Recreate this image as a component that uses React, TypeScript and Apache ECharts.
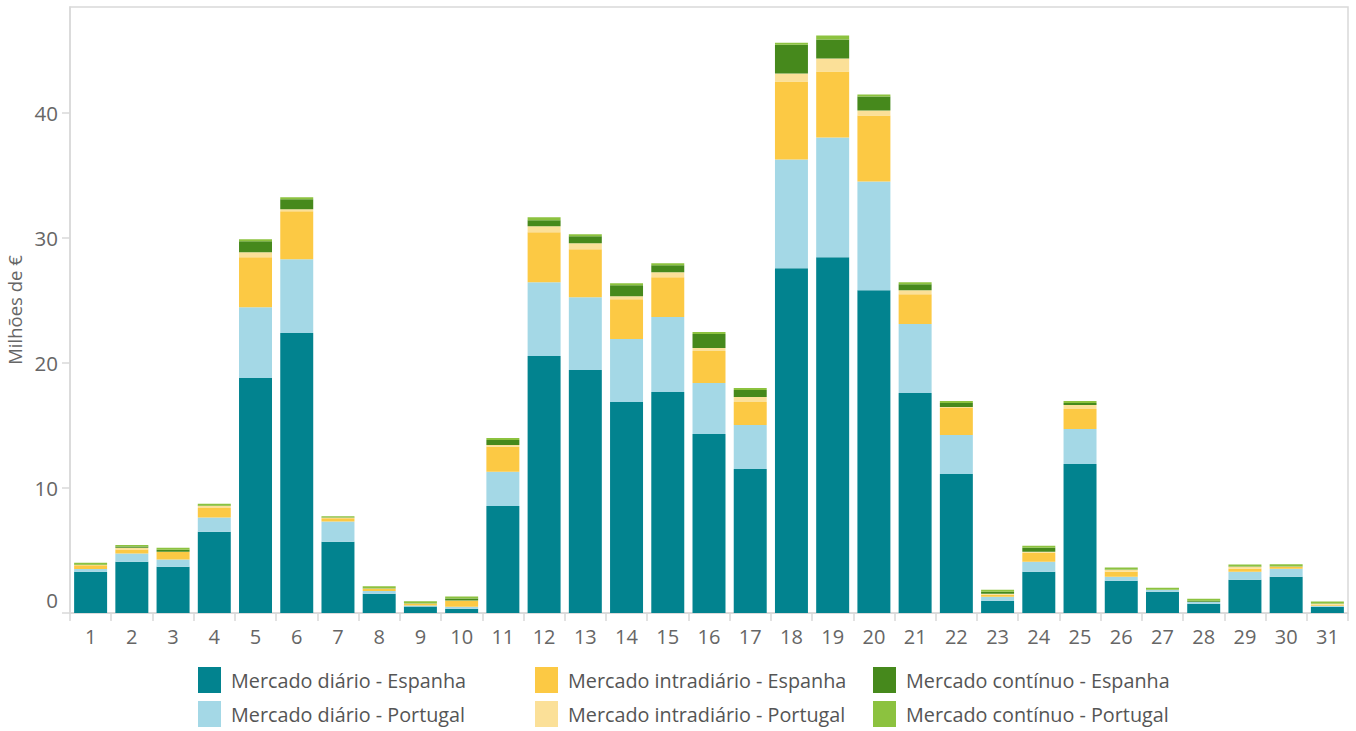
import React, { useEffect, useRef } from "react";
import * as echarts from "echarts";

const days = Array.from({ length: 31 }, (_, i) => String(i + 1));

const diarioES = [3.30, 4.10, 3.70, 6.50, 18.80, 22.40, 5.70, 1.54, 0.53, 0.34, 8.57, 20.56, 19.44, 16.88, 17.68, 14.33, 11.53, 27.59, 28.47, 25.83, 17.60, 11.13, 0.98, 3.30, 11.93, 2.58, 1.70, 0.74, 2.66, 2.90, 0.50];
const diarioPT = [0.22, 0.66, 0.58, 1.14, 5.67, 5.91, 1.62, 0.22, 0.08, 0.16, 2.74, 5.91, 5.83, 5.04, 6.00, 4.07, 3.52, 8.71, 9.59, 8.71, 5.52, 3.12, 0.32, 0.80, 2.80, 0.32, 0.16, 0.16, 0.64, 0.64, 0.08];
const intraES = [0.30, 0.32, 0.60, 0.77, 4.00, 3.84, 0.27, 0.18, 0.13, 0.48, 2.00, 4.00, 3.84, 3.19, 3.19, 2.56, 1.83, 6.23, 5.27, 5.27, 2.39, 2.16, 0.16, 0.72, 1.60, 0.40, 0.00, 0.00, 0.24, 0.16, 0.08];
const intraPT = [0.02, 0.14, 0.02, 0.16, 0.40, 0.16, 0.04, 0.02, 0.02, 0.02, 0.14, 0.48, 0.48, 0.24, 0.40, 0.24, 0.40, 0.64, 1.04, 0.40, 0.32, 0.08, 0.08, 0.08, 0.32, 0.16, 0.00, 0.00, 0.16, 0.02, 0.08];
const contES = [0.02, 0.10, 0.16, 0.02, 0.88, 0.80, 0.02, 0.02, 0.02, 0.16, 0.40, 0.48, 0.56, 0.88, 0.56, 1.12, 0.56, 2.31, 1.52, 1.12, 0.48, 0.32, 0.16, 0.32, 0.16, 0.02, 0.00, 0.08, 0.02, 0.02, 0.02];
const contPT = [0.16, 0.12, 0.16, 0.16, 0.16, 0.16, 0.10, 0.16, 0.16, 0.16, 0.16, 0.24, 0.16, 0.16, 0.16, 0.16, 0.16, 0.16, 0.32, 0.16, 0.16, 0.16, 0.16, 0.16, 0.16, 0.16, 0.16, 0.16, 0.16, 0.16, 0.16];

const yTicks = [0, 10, 20, 30, 40];
const yMax = 48.5;

const seriesDefs = [
  { name: "Mercado diário - Espanha", data: diarioES, color: "#02838f" },
  { name: "Mercado diário - Portugal", data: diarioPT, color: "#a4d8e6" },
  { name: "Mercado intradiário - Espanha", data: intraES, color: "#fcc944" },
  { name: "Mercado intradiário - Portugal", data: intraPT, color: "#fbe098" },
  { name: "Mercado contínuo - Espanha", data: contES, color: "#46891c" },
  { name: "Mercado contínuo - Portugal", data: contPT, color: "#8cc23f" },
];

const legendPos = [
  { name: "Mercado diário - Espanha", left: 198, top: 667 },
  { name: "Mercado intradiário - Espanha", left: 535, top: 667 },
  { name: "Mercado contínuo - Espanha", left: 873, top: 667 },
  { name: "Mercado diário - Portugal", left: 198, top: 701 },
  { name: "Mercado intradiário - Portugal", left: 535, top: 701 },
  { name: "Mercado contínuo - Portugal", left: 873, top: 701 },
];

const FONT = "Open Sans";
const GRAY = "#666666";
const LINE = "#d9d9d9";

export default function App() {
  const ref = useRef<HTMLDivElement>(null);
  useEffect(() => {
    if (!ref.current) return;
    const chart = echarts.init(ref.current, null, { renderer: "svg" });
    chart.setOption({
      animation: false,
      backgroundColor: "#ffffff",
      textStyle: { fontFamily: FONT },
      grid: {
        left: 70,
        right: 8,
        top: 7,
        bottom: 118,
        show: true,
        borderColor: LINE,
        borderWidth: 1.5,
        containLabel: false,
        outerBoundsMode: "none",
      },
      legend: legendPos.map((l) => ({
        data: [l.name],
        left: l.left,
        top: l.top,
        padding: 0,
        icon: "rect",
        itemWidth: 23,
        itemHeight: 26,
        selectedMode: false,
        textStyle: {
          fontFamily: FONT,
          fontSize: 19.8,
          color: "#555555",
          padding: [0, 0, 0, 5],
        },
      })),
      xAxis: {
        type: "category",
        data: days,
        axisLine: { show: true, lineStyle: { color: LINE, width: 1.5 } },
        axisTick: { show: true, length: 8, lineStyle: { color: LINE, width: 1.5 } },
        axisLabel: { color: GRAY, fontSize: 20, fontFamily: FONT, margin: 13 },
        splitLine: { show: false },
      },
      yAxis: {
        type: "value",
        min: 0,
        max: yMax,
        interval: 10,
        name: "Milhões de €",
        nameLocation: "middle",
        nameGap: 45,
        nameTextStyle: { color: GRAY, fontSize: 18.5, fontFamily: FONT },
        axisLine: { show: true, lineStyle: { color: LINE, width: 1.5 } },
        axisTick: {
          show: true,
          length: 8,
          lineStyle: { color: LINE, width: 1.5 },
          customValues: yTicks,
        },
        axisLabel: {
          color: GRAY,
          fontSize: 20.5,
          fontFamily: FONT,
          margin: 12,
          customValues: yTicks,
          formatter: (v: number) => (v === 0 ? "{z|0}" : String(v)),
          rich: {
            z: { color: GRAY, fontSize: 20.5, fontFamily: FONT, padding: [0, 0, 26, 0] },
          },
        },
        splitLine: { show: false },
      },
      series: seriesDefs.map((s) => ({
        name: s.name,
        type: "bar",
        stack: "total",
        data: s.data,
        barWidth: "80%",
        itemStyle: { color: s.color },
        emphasis: { disabled: true },
      })),
    });
    return () => chart.dispose();
  }, []);
  return (
    <div
      ref={ref}
      style={{ position: "fixed", left: 0, top: 0, width: 1356, height: 731 }}
    />
  );
}
